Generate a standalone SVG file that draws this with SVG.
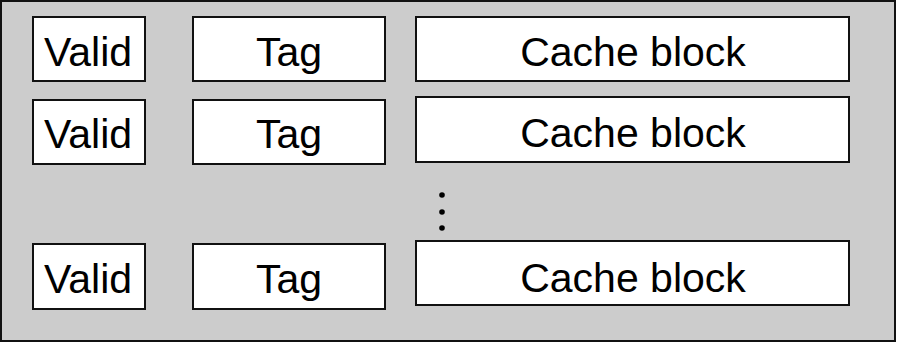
<svg xmlns="http://www.w3.org/2000/svg" width="897" height="343" viewBox="0 0 897 343">
<style>
.box{fill:#ffffff;stroke:#111111;stroke-width:2}
.lbl{font-family:"Liberation Sans",Arial,sans-serif;font-size:41px;fill:#000000;text-anchor:middle}
.dot{fill:#000000}
</style>
<rect id="cache" x="1" y="1" width="894" height="340" fill="#cccccc" stroke="#111111" stroke-width="2"/>
<g id="valid1"><rect class="box" x="33" y="17" width="112" height="64"/><text class="lbl" x="88" y="66">Valid</text></g>
<g id="tag1"><rect class="box" x="193" y="17" width="192" height="64"/><text class="lbl" x="289" y="66">Tag</text></g>
<g id="block1"><rect class="box" x="416" y="17" width="433" height="64"/><text class="lbl" x="633" y="66">Cache block</text></g>
<g id="valid2"><rect class="box" x="33" y="100" width="112" height="64"/><text class="lbl" x="88" y="148">Valid</text></g>
<g id="tag2"><rect class="box" x="193" y="100" width="192" height="64"/><text class="lbl" x="289" y="148">Tag</text></g>
<g id="block2"><rect class="box" x="416" y="97" width="433" height="65"/><text class="lbl" x="633" y="147">Cache block</text></g>
<g id="ellipsis"><circle class="dot" cx="442" cy="195" r="2.8"/><circle class="dot" cx="442" cy="212" r="2.8"/><circle class="dot" cx="442" cy="228" r="2.8"/></g>
<g id="valid3"><rect class="box" x="33" y="244" width="112" height="65"/><text class="lbl" x="88" y="293">Valid</text></g>
<g id="tag3"><rect class="box" x="193" y="244" width="192" height="65"/><text class="lbl" x="289" y="293">Tag</text></g>
<g id="block3"><rect class="box" x="416" y="241" width="433" height="64"/><text class="lbl" x="633" y="292">Cache block</text></g>
<g id="connectors"/>
</svg>
